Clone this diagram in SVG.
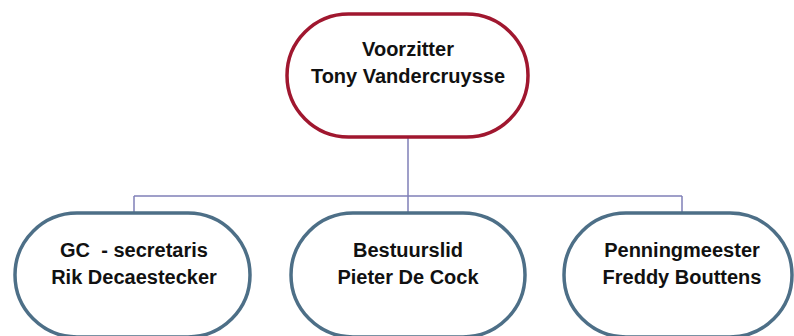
<svg xmlns="http://www.w3.org/2000/svg" width="794" height="336" viewBox="0 0 794 336">
<style>
.box{fill:#fff;stroke-width:3.5}
.top{stroke:#a0172f}
.sub{stroke:#4d6f87}
.conn{fill:none;stroke:#8080b8;stroke-width:1.5}
text{font-family:"Liberation Sans",Arial,sans-serif;font-weight:bold;font-size:20px;fill:#111;text-anchor:middle}
</style>
<rect width="794" height="336" fill="#fff"/>
<g id="connectors">
<path class="conn" d="M408 138V196M134 196H682M134 196V213M408 196V213M682 196V213"/>
</g>
<g id="voorzitter">
<rect class="box top" x="287" y="14" width="241" height="123" rx="61.5"/>
<text x="408" y="56">Voorzitter</text>
<text x="408" y="83">Tony Vandercruysse</text>
</g>
<g id="secretaris">
<rect class="box sub" x="15" y="213" width="235" height="124" rx="62"/>
<text x="134" y="257" xml:space="preserve">GC  - secretaris</text>
<text x="134" y="284">Rik Decaestecker</text>
</g>
<g id="bestuurslid">
<rect class="box sub" x="291" y="213" width="234" height="124" rx="62"/>
<text x="408" y="257">Bestuurslid</text>
<text x="408" y="284">Pieter De Cock</text>
</g>
<g id="penningmeester">
<rect class="box sub" x="564" y="213" width="228" height="124" rx="62"/>
<text x="682" y="257">Penningmeester</text>
<text x="682" y="284">Freddy Bouttens</text>
</g>
</svg>
